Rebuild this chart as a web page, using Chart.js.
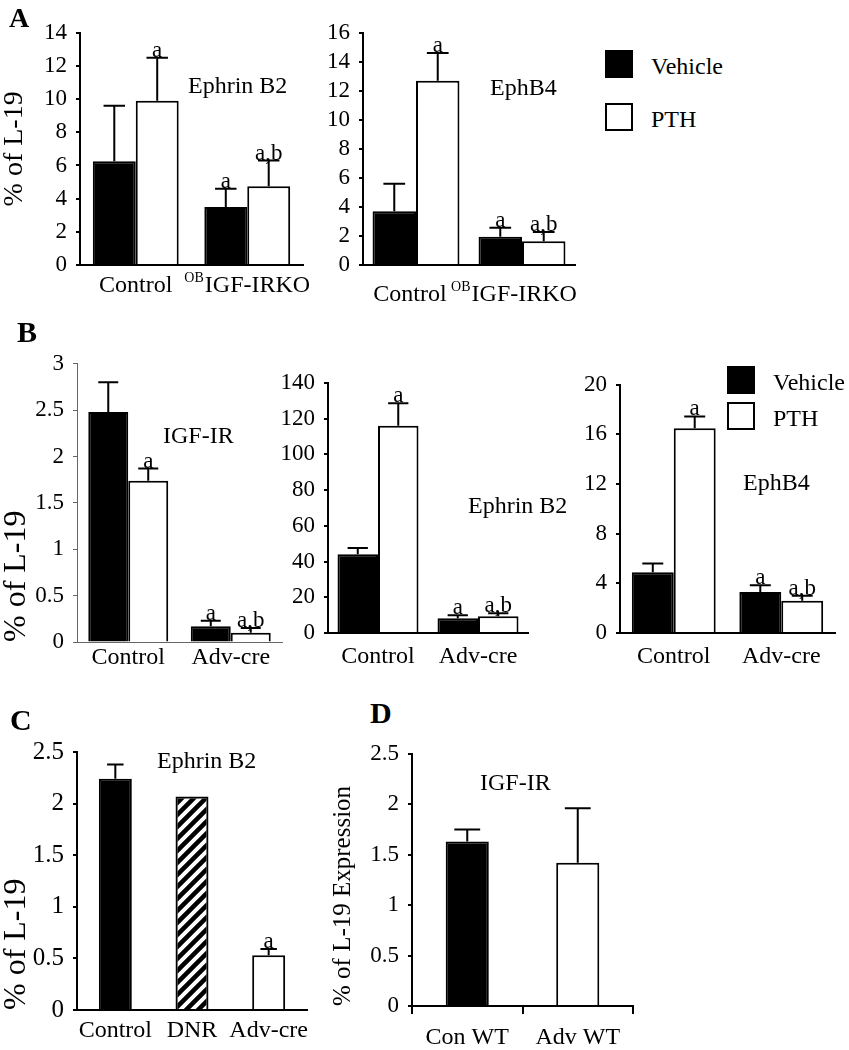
<!DOCTYPE html>
<html>
<head>
<meta charset="utf-8">
<script src="https://cdn.jsdelivr.net/npm/chart.js@4.4.0/dist/chart.umd.min.js"></script>
<style>
    html, body { margin: 0; padding: 0; background: #fff; }
    body { width: 849px; height: 1050px; position: relative; overflow: hidden;
           font-family: "Liberation Serif", "Times New Roman", serif; color: #000; }
    canvas { position: absolute; }
    .txt { position: absolute; white-space: nowrap; line-height: 1; transform: translateY(-50%); }
    .key { position: absolute; box-sizing: border-box; border: 2px solid #000; }
</style>
</head>
<body>
<script>
// ---- Dados ----
const seriesNames = ['Vehicle', 'PTH'];
const marksVehicle = ['', 'a'];
const marksPth = ['a', 'a,b'];

// Painel A
const catsA = ['Control', 'IGF-IRKO'];
const supA = ['', 'OB'];
const a1Vehicle = [6.25, 3.5];
const a1VehicleErr = [3.35, 1.1];
const a1Pth = [9.9, 4.75];
const a1PthErr = [2.6, 1.55];
const a1Ticks = [0, 2, 4, 6, 8, 10, 12, 14];

const a2Vehicle = [3.7, 1.95];
const a2VehicleErr = [1.9, 0.62];
const a2Pth = [12.7, 1.63];
const a2PthErr = [1.9, 0.65];
const a2Ticks = [0, 2, 4, 6, 8, 10, 12, 14, 16];

// Painel B
const catsB = ['Control', 'Adv-cre'];
const b1Vehicle = [2.48, 0.17];
const b1VehicleErr = [0.32, 0.06];
const b1Pth = [1.74, 0.1];
const b1PthErr = [0.13, 0.05];
const b1Ticks = [0, 0.5, 1, 1.5, 2, 2.5, 3];

const b2Vehicle = [44, 8.3];
const b2VehicleErr = [3.5, 1.6];
const b2Pth = [116, 9.4];
const b2PthErr = [12.5, 1.6];
const b2Ticks = [0, 20, 40, 60, 80, 100, 120, 140];

const b3Vehicle = [4.9, 3.3];
const b3VehicleErr = [0.7, 0.55];
const b3Pth = [16.5, 2.6];
const b3PthErr = [0.95, 0.4];
const b3Ticks = [0, 4, 8, 12, 16, 20];

// Painel C
const catsC = ['Control', 'DNR', 'Adv-cre'];
const cValues = [2.24, 2.07, 0.53];
const cErr = [0.14, 0, 0.06];
const cMarks = ['', '', 'a'];
const cTicks = [0, 0.5, 1, 1.5, 2, 2.5];

// Painel D
const catsD = ['Con WT', 'Adv WT'];
const dValues = [1.63, 1.42];
const dErr = [0.12, 0.54];
const dTicks = [0, 0.5, 1, 1.5, 2, 2.5];

// ---- Estilo ----
const FONT = '"Liberation Serif", "Times New Roman", serif';
const PAD_TOP = 20;
const PAD_RIGHT = 6;

// Padrão listrado para a barra DNR
function makeHatch() {
    const n = 12;
    const c = document.createElement('canvas');
    c.width = n; c.height = n;
    const g = c.getContext('2d');
    g.strokeStyle = '#000';
    g.lineWidth = 4.5;
    g.beginPath();
    g.moveTo(-2, n + 2); g.lineTo(n + 2, -2);
    g.moveTo(-n / 2, n / 2); g.lineTo(n / 2, -n / 2);
    g.moveTo(n / 2, n * 1.5); g.lineTo(n * 1.5, n / 2);
    g.stroke();
    return g.createPattern(c, 'repeat');
}

// Barras de erro + letras de significância
const errorBars = {
    id: 'errorBars',
    afterDatasetsDraw(chart, args, opts) {
        const ctx = chart.ctx;
        const y = chart.scales.y;
        chart.data.datasets.forEach((ds, di) => {
            const meta = chart.getDatasetMeta(di);
            meta.data.forEach((bar, i) => {
                const v = ds.data[i];
                const e = (ds.errors && ds.errors[i]) || 0;
                const top = y.getPixelForValue(v + e);
                const half = bar.width * (opts.cap || 0.25);
                ctx.save();
                ctx.strokeStyle = '#000';
                ctx.lineWidth = 2;
                if (e > 0) {
                    ctx.beginPath();
                    ctx.moveTo(bar.x, bar.y);
                    ctx.lineTo(bar.x, top);
                    ctx.moveTo(bar.x - half, top);
                    ctx.lineTo(bar.x + half, top);
                    ctx.stroke();
                }
                const m = ds.marks && ds.marks[i];
                if (m) {
                    ctx.fillStyle = '#000';
                    ctx.font = `${opts.size || 23}px ${FONT}`;
                    ctx.textAlign = 'center';
                    ctx.textBaseline = 'alphabetic';
                    ctx.fillText(m, bar.x, top - 1);
                }
                ctx.restore();
            });
        });
    }
};

// Rótulos do eixo x (com sobrescrito opcional)
const xLabels = {
    id: 'xLabels',
    afterDraw(chart, args, opts) {
        const ctx = chart.ctx;
        const sx = chart.scales.x;
        const yy = chart.chartArea.bottom + opts.dy;
        chart.data.labels.forEach((lab, i) => {
            const x = sx.getPixelForValue(i);
            const sup = (opts.sup && opts.sup[i]) || '';
            ctx.save();
            ctx.fillStyle = '#000';
            ctx.textBaseline = 'middle';
            ctx.textAlign = 'left';
            ctx.font = `${opts.size}px ${FONT}`;
            const w = ctx.measureText(lab).width;
            ctx.font = `${Math.round(opts.size * 0.6)}px ${FONT}`;
            const sw = sup ? ctx.measureText(sup).width + 1 : 0;
            const start = x - (w + sw) / 2 + (opts.dx ? opts.dx[i] : 0);
            if (sup) ctx.fillText(sup, start, yy - opts.size * 0.32);
            ctx.font = `${opts.size}px ${FONT}`;
            ctx.fillText(lab, start + sw, yy);
            ctx.restore();
        });
    }
};

function makePanel(p) {
    const cv = document.createElement('canvas');
    const left = p.x0 - p.yW;
    const top = p.yTop - PAD_TOP;
    const width = p.x1 - left + PAD_RIGHT;
    const height = p.yBot - top + p.xH;
    cv.width = width;
    cv.height = height;
    cv.style.left = left + 'px';
    cv.style.top = top + 'px';
    document.body.appendChild(cv);

    const axisColor = p.axisColor || '#000';
    const axisWidth = p.axisWidth || 2;

    return new Chart(cv, {
        type: 'bar',
        data: { labels: p.labels, datasets: p.datasets },
        options: {
            responsive: false,
            animation: false,
            events: [],
            layout: { padding: { top: PAD_TOP, right: PAD_RIGHT, left: 0, bottom: 0 } },
            datasets: { bar: { categoryPercentage: p.catPct, barPercentage: 1, borderWidth: 2, borderColor: '#000' } },
            plugins: {
                legend: { display: false },
                tooltip: { enabled: false },
                errorBars: { size: p.markSize || 23, cap: p.cap || 0.25 },
                xLabels: { dy: p.labelDy, size: p.labelSize || 24, sup: p.sup, dx: p.labelDx }
            },
            scales: {
                x: {
                    ticks: { display: false },
                    grid: { display: !!p.xTicks, drawOnChartArea: false, tickLength: 8, color: axisColor, lineWidth: axisWidth },
                    border: { display: true, color: axisColor, width: axisWidth },
                    afterFit: s => { s.height = p.xH; }
                },
                y: {
                    min: 0,
                    max: p.ticks[p.ticks.length - 1],
                    afterBuildTicks: s => { s.ticks = p.ticks.map(v => ({ value: v })); },
                    ticks: { callback: v => String(v), color: '#000', padding: 9, autoSkip: false,
                             font: { family: FONT, size: p.tickSize || 23 } },
                    grid: { drawOnChartArea: false, tickLength: 4, color: axisColor, lineWidth: axisWidth },
                    border: { display: true, color: axisColor, width: axisWidth },
                    title: { display: !!p.title, text: p.title, color: '#000', align: p.titleAlign || 'center',
                             font: { family: FONT, size: p.titleSize || 28, lineHeight: 1 },
                             padding: { top: 1, bottom: 0 } },
                    afterFit: s => { s.width = p.yW; }
                }
            }
        },
        plugins: [errorBars, xLabels]
    });
}

function pair(vehicle, vehicleErr, pth, pthErr) {
    return [
        { label: seriesNames[0], data: vehicle, errors: vehicleErr, marks: marksVehicle, backgroundColor: '#000' },
        { label: seriesNames[1], data: pth, errors: pthErr, marks: marksPth, backgroundColor: '#fff' }
    ];
}

// A
makePanel({ x0: 80, x1: 303, yTop: 30, yBot: 265, yW: 80, xH: 40, ticks: a1Ticks,
    labels: catsA, sup: supA, labelDy: 21, catPct: 0.77, title: '% of L-19',
    datasets: pair(a1Vehicle, a1VehicleErr, a1Pth, a1PthErr) });
makePanel({ x0: 363, x1: 575, yTop: 30, yBot: 265, yW: 50, xH: 46, ticks: a2Ticks,
    labels: catsA, sup: supA, labelDy: 30, labelDx: [-6, -8], catPct: 0.82,
    datasets: pair(a2Vehicle, a2VehicleErr, a2Pth, a2PthErr) });

// B
makePanel({ x0: 77, x1: 282, yTop: 361, yBot: 642, yW: 77, xH: 34, ticks: b1Ticks,
    labels: catsB, labelDy: 16, catPct: 0.78, title: '% of L-19', titleSize: 32, titleAlign: 'start',
    axisColor: '#666', axisWidth: 1,
    datasets: pair(b1Vehicle, b1VehicleErr, b1Pth, b1PthErr) });
makePanel({ x0: 328, x1: 528, yTop: 380, yBot: 633, yW: 58, xH: 40, ticks: b2Ticks,
    labels: catsB, labelDy: 24, catPct: 0.81,
    datasets: pair(b2Vehicle, b2VehicleErr, b2Pth, b2PthErr) });
makePanel({ x0: 620, x1: 835, yTop: 382, yBot: 633, yW: 50, xH: 40, ticks: b3Ticks,
    labels: catsB, labelDy: 24, catPct: 0.78,
    datasets: pair(b3Vehicle, b3VehicleErr, b3Pth, b3PthErr) });

// C
makePanel({ x0: 77, x1: 307, yTop: 748, yBot: 1010, yW: 77, xH: 38, ticks: cTicks,
    labels: catsC, labelDy: 21, catPct: 0.43, tickSize: 25, title: '% of L-19', titleSize: 32, titleAlign: 'start',
    datasets: [{ label: 'Ephrin B2', data: cValues, errors: cErr, marks: cMarks,
                 backgroundColor: ['#000', makeHatch(), '#fff'] }] });

// D
makePanel({ x0: 412, x1: 633, yTop: 751, yBot: 1006, yW: 82, xH: 44, ticks: dTicks,
    labels: catsD, labelDy: 32, catPct: 0.39, xTicks: true, cap: 0.3,
    title: '% of L-19 Expression', titleSize: 25, titleAlign: 'start',
    datasets: [{ label: 'IGF-IR', data: dValues, errors: dErr, backgroundColor: ['#000', '#fff'] }] });

// Legendas
function addLegend(x, y, gap, textDx) {
    seriesNames.forEach((name, i) => {
        const box = document.createElement('div');
        box.className = 'key';
        box.style.left = x + 'px';
        box.style.top = (y + i * gap) + 'px';
        box.style.width = '28px';
        box.style.height = '28px';
        box.style.background = i === 0 ? '#000' : '#fff';
        document.body.appendChild(box);
        addText(name, x + textDx, y + i * gap + 16, 24);
    });
}

function addText(t, x, y, size, bold) {
    const d = document.createElement('div');
    d.className = 'txt';
    d.textContent = t;
    d.style.left = x + 'px';
    d.style.top = y + 'px';
    d.style.fontSize = size + 'px';
    if (bold) d.style.fontWeight = 'bold';
    document.body.appendChild(d);
}

addLegend(605, 50, 53, 46);
addLegend(727, 366, 36, 46);

// Letras dos painéis e nomes dos genes
addText('A', 9, 18, 28, true);
addText('B', 17, 332, 30, true);
addText('C', 10, 720, 30, true);
addText('D', 370, 713, 30, true);
addText('Ephrin B2', 188, 85, 24);
addText('EphB4', 490, 87, 24);
addText('IGF-IR', 163, 435, 24);
addText('Ephrin B2', 468, 505, 24);
addText('EphB4', 743, 482, 24);
addText('Ephrin B2', 157, 760, 24);
addText('IGF-IR', 480, 782, 24);
</script>
</body>
</html>
